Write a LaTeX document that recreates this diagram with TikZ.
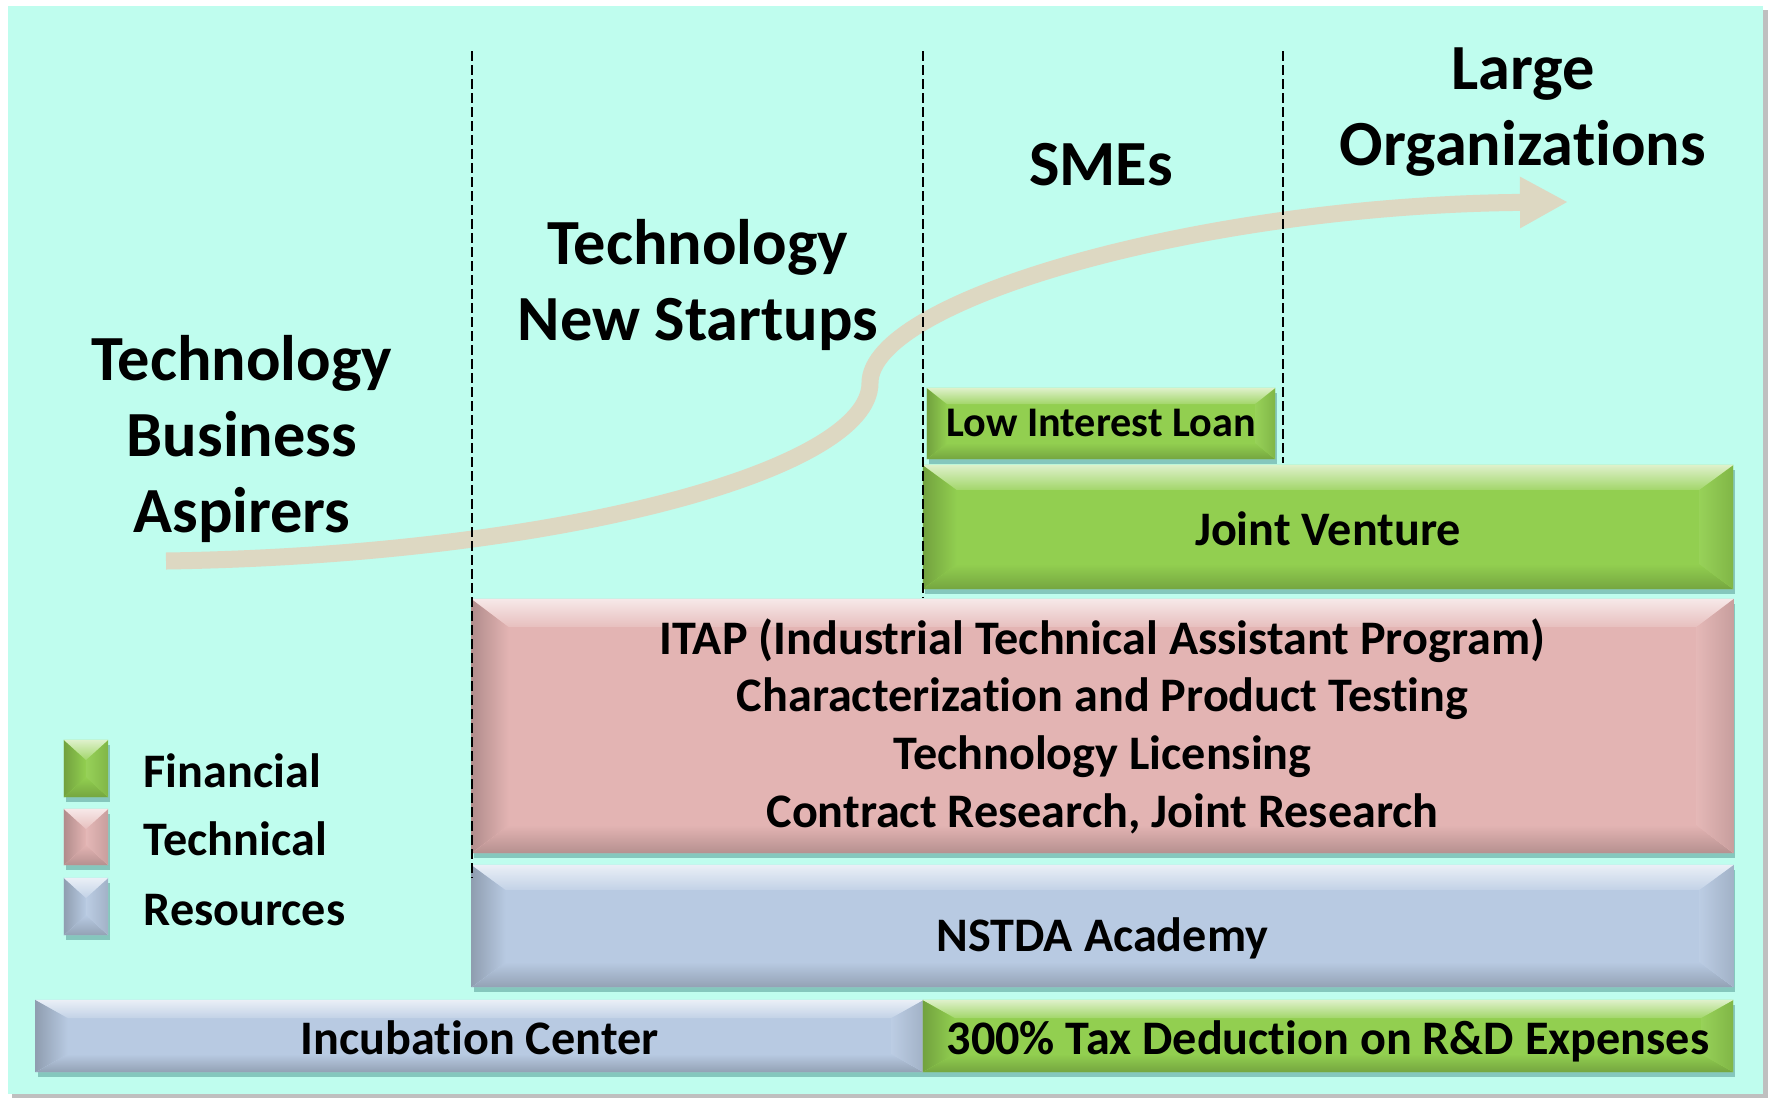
\documentclass[tikz,border=0pt]{standalone}
\usepackage{fontspec}
\setmainfont{Carlito}[Ligatures=NoCommon]
\usetikzlibrary{arrows.meta,shadows,positioning}

\definecolor{bgcyan}{HTML}{BFFDEE}
\definecolor{fingreen}{HTML}{92CF50}
\definecolor{techpink}{HTML}{E3B4B3}
\definecolor{resblue}{HTML}{B8CAE2}
\definecolor{growthtan}{HTML}{DDD8C2}

\begin{document}
\begin{tikzpicture}[x=0.01cm, y=-0.01cm,
    bevel/.style n args={3}{fill=#1, inner sep=0pt, outer sep=0pt,
      drop shadow={shadow xshift=0.02cm, shadow yshift=-0.05cm, opacity=0.3, fill=teal!60!black},
      path picture={
        \coordinate (bnw) at (path picture bounding box.north west);
        \coordinate (bne) at (path picture bounding box.north east);
        \coordinate (bsw) at (path picture bounding box.south west);
        \coordinate (bse) at (path picture bounding box.south east);
        \fill[bottom color=#1!80!black, top color=#1] (bsw) -- ([xshift=#2,yshift=#3]bsw) -- ([xshift=-#2,yshift=#3]bse) -- (bse) -- cycle;
        \fill[left color=#1!78!black, right color=#1] (bnw) -- ([xshift=#2,yshift=-#3]bnw) -- ([xshift=#2,yshift=#3]bsw) -- (bsw) -- cycle;
        \fill[right color=#1!88!black, left color=#1!95!white] (bne) -- ([xshift=-#2,yshift=-#3]bne) -- ([xshift=-#2,yshift=#3]bse) -- (bse) -- cycle;
        \fill[top color=#1!30!white, bottom color=#1!85!white] (bnw) -- ([xshift=#2,yshift=-#3]bnw) -- ([xshift=-#2,yshift=-#3]bne) -- (bne) -- cycle;
      }},
    financial/.style 2 args={bevel={fingreen}{#1}{#2}},
    technical/.style 2 args={bevel={techpink}{#1}{#2}},
    resources/.style 2 args={bevel={resblue}{#1}{#2}},
    boxtext/.style={font=\bfseries\fontsize{13.7}{16.4}\selectfont, align=center},
    oneline/.style={text height=0.37cm, text depth=0cm},
    header/.style={font=\bfseries\fontsize{18.3}{21.6}\selectfont, align=center},
    separator/.style={line width=0.6pt, dash pattern=on 0.1cm off 0.04cm},
    growth/.style={draw=growthtan, line width=0.17cm, -{Triangle[length=0.48cm,width=0.48cm]}}]

   % background
   \useasboundingbox (0,0) rectangle (1771,1099);
   \fill[white] (0,0) rectangle (1771,1099);
   \fill[black!25] (12,10) rectangle (1768,1098);
   \fill[bgcyan] (8,6) rectangle (1763,1094);

   % growth curve
   \coordinate (gstart) at (166,561);
   \coordinate (gturn) at (870,383);
   \coordinate (gend) at (1568,202);
   \draw[growth] (gstart) .. controls (560,555) and (870,470) .. (gturn)
                 .. controls (870,300) and (1200,205) .. (gend);

   % stage headers
   \node[header] (aspirers) at (242,439) {Technology\\Business\\Aspirers};
   \node[header] (startups) at (698,285) {Technology\\New Startups};
   \node[header] (smes) at (1101,165) {SMEs};
   \node[header] (largeorg) at (1523,112) {Large\\Organizations};

   % support programs
   \node[financial={2mm}{1.6mm}, boxtext, font=\bfseries\fontsize{12}{14}\selectfont, text height=0.26cm, text depth=0cm,
     minimum width=3.48cm, minimum height=0.71cm] (loan) at (1101,423.5) {Low Interest Loan};
   \node[financial={3.4mm}{2.5mm}, boxtext, oneline, minimum width=8.10cm, minimum height=1.24cm] (venture) at (1328,527) {Joint Venture};
   \node[technical={3.7mm}{2.8mm}, boxtext, minimum width=12.61cm, minimum height=2.54cm] (itap) at (1102.5,726)
     {ITAP (Industrial Technical Assistant Program)\\Characterization and Product Testing\\Technology Licensing\\Contract Research, Joint Research};
   \node[resources={3.4mm}{2.5mm}, boxtext, text height=0.5cm, text depth=0cm, minimum width=12.61cm, minimum height=1.22cm] (academy) at (1102.5,926) {NSTDA Academy};
   \node[resources={3.2mm}{1.8mm}, boxtext, oneline, minimum width=8.87cm, minimum height=0.72cm] (incubation) at (479.5,1036) {Incubation Center};
   \node[financial={3.2mm}{1.8mm}, boxtext, oneline, minimum width=8.10cm, minimum height=0.72cm] (tax) at (1328,1036) {300\% Tax Deduction on R\&D Expenses};

   % stage separators
   \coordinate (s1top) at (472,51);
   \coordinate (s1bot) at (472,878);
   \coordinate (s2top) at (923,51);
   \coordinate (s2bot) at (923,598);
   \coordinate (s3top) at (1283,51);
   \coordinate (s3bot) at (1283,463);
   \draw[separator] (s1top) -- (s1bot);
   \draw[separator] (s2top) -- (s2bot);
   \draw[separator] (s3top) -- (s3bot);

   % legend
   \node[financial={2.2mm}{2mm}, minimum width=0.44cm, minimum height=0.57cm] (finkey) at (86,768.5) {};
   \node[technical={2.2mm}{2mm}, minimum width=0.44cm, minimum height=0.56cm] (techkey) at (86,837) {};
   \node[resources={2.2mm}{2mm}, minimum width=0.44cm, minimum height=0.57cm] (reskey) at (86,906.5) {};
   \node[boxtext, oneline, inner sep=0pt, right=0.35cm of finkey] (finlabel) {Financial};
   \node[boxtext, oneline, inner sep=0pt, right=0.35cm of techkey] (techlabel) {Technical};
   \node[boxtext, oneline, inner sep=0pt, right=0.35cm of reskey] (reslabel) {Resources};
 \end{tikzpicture}
\end{document}
